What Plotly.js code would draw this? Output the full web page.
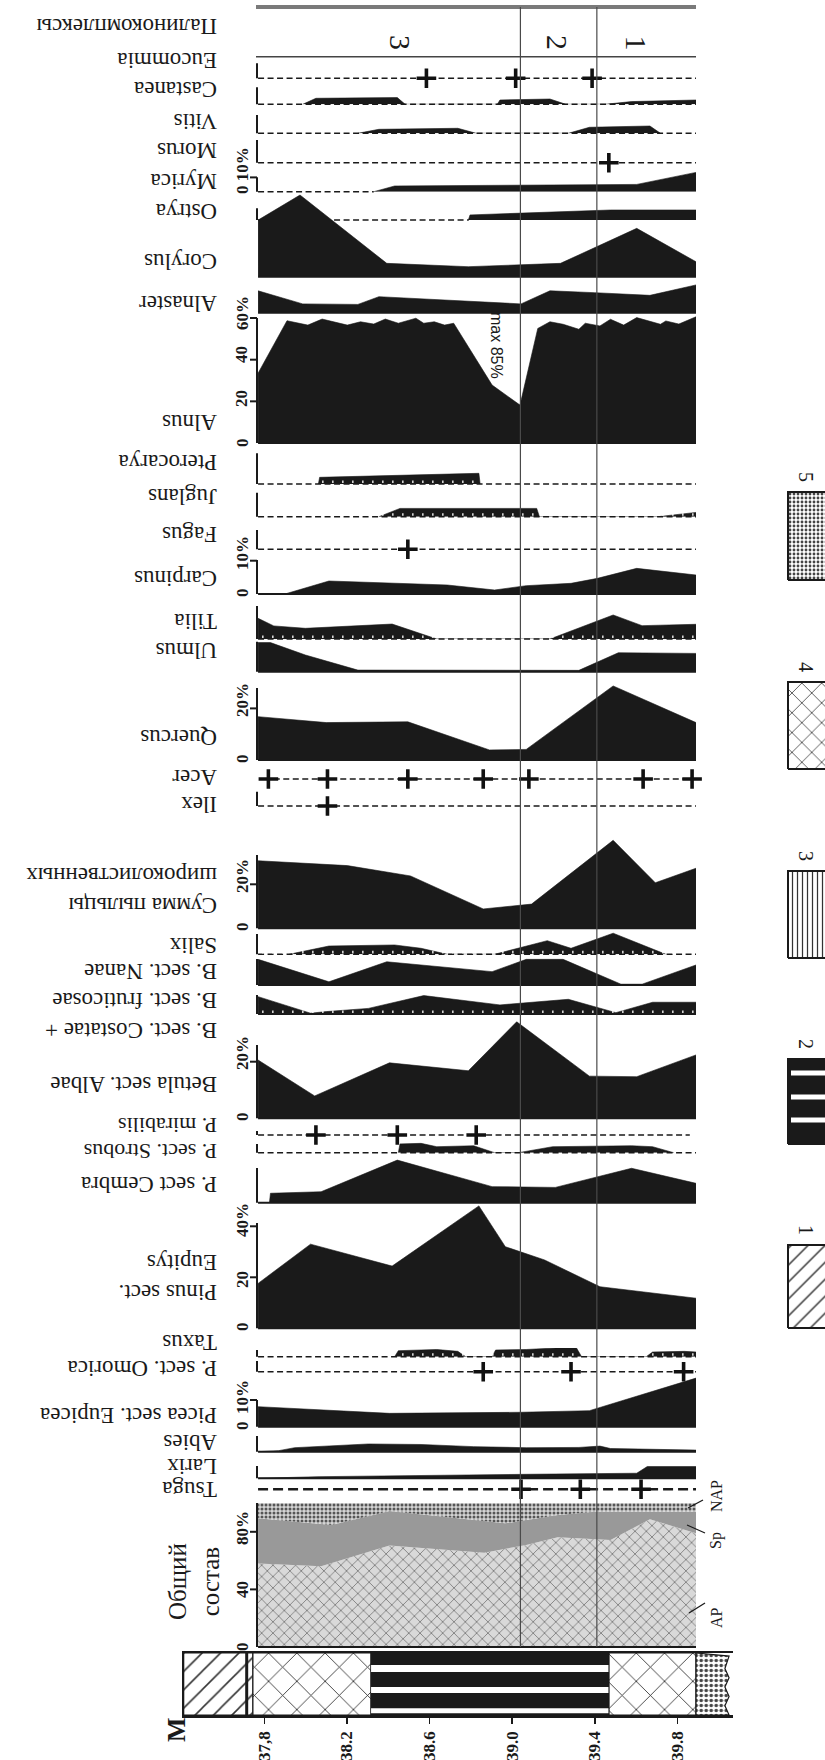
<!DOCTYPE html>
<html>
<head>
<meta charset="utf-8">
<script src="https://cdn.plot.ly/plotly-3.0.1.min.js"></script>
<style>html,body{margin:0;padding:0;background:#fff}#chart{width:825px;height:1760px}</style>
</head>
<body>
<div id="chart"></div>
<script>
// ================= DATA =================
const depthTicks = [37.8, 38.2, 38.6, 39.0, 39.4, 39.8];
const depthTickText = ['37,8', '38.2', '38.6', '39.0', '39.4', '39.8'];
const sectionDepth = [37.77, 39.89];
const zoneBounds = [39.04, 39.41];
const zoneNames = ['3', '2', '1'];
const zoneMid = [38.46, 39.22, 39.60];

// lithology (depth from / to, legend type)
const lithoFrom = [37.41, 37.745, 38.317, 39.469, 39.89];
const lithoTo   = [37.745, 38.317, 39.469, 39.89, 40.05];
const lithoType = [1, 4, 2, 4, 5];
const legendNums = ['1', '2', '3', '4', '5'];

// Общий состав (cumulative %)
const apDepth = [37.77, 38.075, 38.406, 38.865, 39.068, 39.221, 39.476, 39.667, 39.89];
const apPct   = [58, 56, 70.4, 65.5, 70.8, 76.2, 74.3, 88.7, 79];
const apSpDepth = [37.77, 38.126, 38.406, 38.967, 39.221, 39.40, 39.89];
const apSpPct   = [89.4, 84.7, 94.4, 85.9, 91.7, 94, 94];
const compLabels = ['AP', 'Sp', 'NAP'];

// taxa
const eucommiaPlus = [38.585, 39.017, 39.387];
const castaneaDepth = [37.986, 38.05, 38.444, 38.482, 38.928, 38.941, 39.183, 39.26, 39.45, 39.578, 39.89];
const castaneaPct   = [0, 4.2, 4.7, 0, 0, 3.0, 3.7, 0, 0, 1.9, 3.0];
const vitisDepth = [38.253, 38.355, 38.737, 38.826, 39.272, 39.374, 39.667, 39.718];
const vitisPct   = [0, 2.8, 3.5, 0, 0, 4.2, 5.1, 0];
const morusPlus = [39.468];
const myricaDepth = [38.33, 38.431, 39.603, 39.89];
const myricaPct   = [0, 4.0, 5.1, 13.5];
const ostryaDepth = [38.788, 38.796, 39.476, 39.89];
const ostryaPct   = [0, 1.9, 3.75, 3.75];
const corylusDepth = [37.77, 37.973, 38.393, 38.788, 39.234, 39.603, 39.89];
const corylusPct   = [21.2, 30.6, 5.0, 3.75, 5.0, 18.1, 5.6];
const alnasterDepth = [37.77, 37.986, 38.253, 38.355, 39.043, 39.183, 39.40, 39.667, 39.89];
const alnasterPct   = [8.2, 3.3, 3.1, 6.0, 3.3, 8.2, 7.5, 6.5, 10.4];
const alnusDepth = [37.77, 37.91, 38.011, 38.08, 38.202, 38.266, 38.33, 38.386, 38.449, 38.534, 38.572, 38.623, 38.673, 38.717, 38.903, 39.038, 39.124, 39.183, 39.247, 39.323, 39.354, 39.425, 39.476, 39.54, 39.603, 39.718, 39.744, 39.807, 39.89];
const alnusPct   = [33.5, 58.7, 56.6, 59.5, 56.6, 58.2, 57.1, 59.5, 57.5, 59.9, 57.5, 58.2, 56.6, 57.5, 27.8, 18.2, 55.0, 58.2, 57.0, 54.6, 57.5, 56.2, 59.4, 56.6, 60.2, 57.0, 58.6, 57.1, 60.6];
const pterocaryaDepth = [38.062, 38.068, 38.839, 38.845];
const pterocaryaPct   = [0, 2.5, 4.0, 0];
const juglansDepth = [38.355, 38.457, 39.119, 39.132, 39.705, 39.89];
const juglansPct   = [0, 3.1, 3.1, 0, 0, 1.6];
const fagusPlus = [38.495];
const carpinusDepth = [37.77, 37.90, 38.113, 38.686, 38.915, 39.068, 39.285, 39.413, 39.603, 39.89];
const carpinusPct   = [0, 0, 3.9, 2.7, 1.2, 2.5, 3.2, 4.7, 7.7, 5.7];
const tiliaDepth = [37.77, 37.846, 37.999, 38.151, 38.419, 38.635, 39.183, 39.489, 39.629, 39.89];
const tiliaPct   = [7.75, 4.9, 4.0, 4.6, 5.6, 0, 0, 9.0, 5.0, 5.5];
const ulmusDepth = [37.77, 37.83, 37.999, 38.253, 39.323, 39.514, 39.89];
const ulmusPct   = [10.9, 10.9, 6.25, 0.6, 0.5, 7.1, 6.85];
const quercusDepth = [37.77, 38.10, 38.495, 38.89, 39.068, 39.489, 39.89];
const quercusPct   = [16.8, 14.5, 14.8, 3.9, 4.1, 28.7, 14.5];
const acerPlus = [37.82, 38.106, 38.495, 38.86, 39.081, 39.634, 39.871];
const ilexPlus = [38.106];
const summaDepth = [37.77, 38.202, 38.508, 38.86, 39.094, 39.489, 39.693, 39.89];
const summaPct   = [30.7, 28.5, 23.8, 8.8, 11.0, 40.0, 20.7, 27.3];
const salixDepth = [37.92, 38.113, 38.431, 38.559, 38.686, 38.915, 39.17, 39.285, 39.489, 39.744];
const salixPct   = [0, 3.1, 3.5, 2.25, 0, 0, 5.1, 2.25, 7.9, 0];
const nanaeDepth = [37.77, 38.113, 38.393, 38.903, 39.068, 39.247, 39.527, 39.629, 39.89];
const nanaePct   = [9.6, 1.2, 8.7, 5.0, 9.6, 9.6, 0.3, 0.3, 7.5];
const fruticDepth = [37.77, 38.024, 38.10, 38.304, 38.572, 38.941, 39.272, 39.502, 39.68, 39.89];
const fruticPct   = [6.5, 0.3, 0.9, 2.1, 6.9, 3.4, 5.5, 0.5, 4.4, 4.4];
const betulaDepth = [37.77, 38.044, 38.406, 38.788, 39.022, 39.374, 39.603, 39.89];
const betulaPct   = [20.6, 7.9, 19.6, 16.8, 34.1, 14.9, 14.7, 22.4];
const mirabilisPlus = [38.05, 38.444, 38.826];
const strobusDepth = [38.449, 38.457, 38.559, 38.635, 38.814, 38.903, 38.915, 39.03, 39.196, 39.578, 39.68, 39.782];
const strobusPct   = [0, 3.3, 3.5, 2.25, 2.6, 0.4, 0, 0, 2.25, 2.6, 2.25, 0];
const cembraDepth = [37.77, 37.825, 37.83, 38.075, 38.444, 38.903, 39.209, 39.578, 39.89];
const cembraPct   = [0, 0, 3.7, 4.3, 16.7, 6.3, 6.0, 13.5, 7.6];
const pinusDepth = [37.77, 38.024, 38.419, 38.839, 38.967, 39.157, 39.425, 39.89];
const pinusPct   = [17.6, 33.0, 24.4, 48.0, 32.0, 26.8, 16.3, 11.8];
const taxusDepth = [38.431, 38.449, 38.635, 38.737, 38.775, 38.903, 38.92, 39.068, 39.272, 39.31, 39.336, 39.649, 39.68, 39.833, 39.89];
const taxusPct   = [0, 2.25, 2.7, 2.0, 0, 0, 2.5, 2.7, 3.5, 3.5, 0, 0, 1.75, 2.0, 1.75];
const omoricaPlus = [38.86, 39.285, 39.83];
const piceaDepth = [37.77, 38.406, 39.043, 39.374, 39.89];
const piceaPct   = [7.5, 5.0, 5.4, 6.0, 18.2];
const abiesDepth = [37.77, 37.87, 37.947, 38.304, 38.559, 38.814, 39.068, 39.323, 39.425, 39.476, 39.89];
const abiesPct   = [0, 0.4, 1.5, 2.9, 2.7, 1.9, 1.5, 1.6, 2.1, 1.2, 0.6];
const larixDepth = [37.77, 38.06, 39.068, 39.603, 39.654, 39.89];
const larixPct   = [0, 0.6, 1.5, 1.9, 4.4, 4.4];
const tsugaPlus = [39.043, 39.33, 39.624];

// ================= LAYOUT / STYLE =================
const W = 825, H = 1760;
const PX0 = 256, PX1 = 696;
const DEPTH_RANGE = [37.76, 39.89];
const PXPERM = (PX1 - PX0) / (DEPTH_RANGE[1] - DEPTH_RANGE[0]);
const px = x => x / W;
const py = y => 1 - y / H;
const SERIF = 'Liberation Serif, Times New Roman, serif';
const SANS = 'Liberation Sans, Arial, sans-serif';
const FILL = '#1a1a1a';
const INK = '#1a1a1a';
const FULL = sectionDepth;

const strips = [
  {name: 'Eucommia', plus: eucommiaPlus, base: 78.3, top: 62, scale: 1.43, axis: 63.3, dash: FULL, ly: 61},
  {name: 'Castanea', depth: castaneaDepth, pct: castaneaPct, base: 104.3, top: 86, scale: 1.43, axis: 87.3, dash: FULL, ly: 90},
  {name: 'Vitis', depth: vitisDepth, pct: vitisPct, base: 133.3, top: 113, scale: 1.43, axis: 115, dash: FULL, ly: 121},
  {name: 'Morus', plus: morusPlus, base: 162.7, top: 140, scale: 1.43, axis: 140, dash: FULL, ly: 151},
  {name: 'Myrica', depth: myricaDepth, pct: myricaPct, base: 191.7, top: 172, scale: 1.43, axis: 177.3, ticks: [10], dash: [37.77, 38.33], ly: 181},
  {name: 'Ostrya', depth: ostryaDepth, pct: ostryaPct, base: 220, top: 207, scale: 2.67, axis: 208.3, dash: [37.77, 38.79], ly: 211},
  {name: 'Corylus', depth: corylusDepth, pct: corylusPct, base: 276.7, top: 194, scale: 2.67, solid: true, ly: 262},
  {name: 'Alnaster', depth: alnasterDepth, pct: alnasterPct, base: 312.7, top: 284, scale: 2.67, solid: true, ly: 304},
  {name: 'Alnus', depth: alnusDepth, pct: alnusPct, base: 443, top: 314, scale: 2.083, axis: 318, ticks: [20, 40, 60], solid: true, ly: 423},
  {name: 'Pterocarya', depth: pterocaryaDepth, pct: pterocaryaPct, base: 484, top: 452, scale: 2.67, axis: 453.3, dash: FULL, notch: true, ly: 462},
  {name: 'Juglans', depth: juglansDepth, pct: juglansPct, base: 516.7, top: 492, scale: 2.67, axis: 492.7, dash: FULL, notch: true, ly: 497},
  {name: 'Fagus', plus: fagusPlus, base: 549.3, top: 530, scale: 2.67, axis: 530, dash: FULL, ly: 535},
  {name: 'Carpinus', depth: carpinusDepth, pct: carpinusPct, base: 594, top: 558, scale: 3.33, axis: 560, ticks: [10], solid: true, ly: 578},
  {name: 'Tilia', depth: tiliaDepth, pct: tiliaPct, base: 639, top: 605, scale: 2.67, axis: 606, dash: FULL, notch: true, ly: 621},
  {name: 'Ulmus', depth: ulmusDepth, pct: ulmusPct, base: 671.7, top: 641, scale: 2.67, axis: 641.7, solid: true, ly: 651},
  {name: 'Quercus', depth: quercusDepth, pct: quercusPct, base: 760, top: 685, scale: 2.58, axis: 688, ticks: [20], solid: true, ly: 738},
  {name: 'Acer', plus: acerPlus, base: 779, top: 770, scale: 2.67, dash: [37.80, 39.89], ly: 778},
  {name: 'Ilex', plus: ilexPlus, base: 806, top: 791, scale: 2.67, axis: 791.7, dash: FULL, ly: 805},
  {name: 'Сумма пыльцы<br>широколиственных', depth: summaDepth, pct: summaPct, base: 928.3, top: 838, scale: 2.2, axis: 855, ticks: [20], solid: true, ly: 891},
  {name: 'Salix', depth: salixDepth, pct: salixPct, base: 954.3, top: 932, scale: 2.67, axis: 934, dash: FULL, notch: true, ly: 946},
  {name: 'B. sect. Nanae', depth: nanaeDepth, pct: nanaePct, base: 985, top: 957, scale: 2.67, axis: 959, solid: true, ly: 972},
  {name: 'B. sect. Costatae +<br>B. sect. fruticosae', depth: fruticDepth, pct: fruticPct, base: 1014, top: 994, scale: 2.67, axis: 995, solid: true, notch: true, ly: 1016},
  {name: 'Betula sect. Albae', depth: betulaDepth, pct: betulaPct, base: 1118.3, top: 1020, scale: 2.83, axis: 1045, ticks: [20], solid: true, ly: 1085},
  {name: 'P. mirabilis', plus: mirabilisPlus, base: 1135, top: 1128, scale: 2.67, axis: 1131, dash: [37.77, 39.86], ly: 1126, fs: 22},
  {name: 'P. sect. Strobus', depth: strobusDepth, pct: strobusPct, base: 1152.7, top: 1142, scale: 2.67, axis: 1144, dash: FULL, ly: 1152, fs: 22},
  {name: 'P. sect Cembra', depth: cembraDepth, pct: cembraPct, base: 1202.7, top: 1158, scale: 2.55, axis: 1168, solid: true, ly: 1185},
  {name: 'Pinus sect.<br>Eupitys', depth: pinusDepth, pct: pinusPct, base: 1328.3, top: 1204, scale: 2.55, axis: 1223, ticks: [20, 40], solid: true, ly: 1278},
  {name: 'Taxus', depth: taxusDepth, pct: taxusPct, base: 1356.7, top: 1348, scale: 2.67, axis: 1350, dash: FULL, notch: true, ly: 1343},
  {name: 'P. sect. Omorica', plus: omoricaPlus, base: 1371.7, top: 1361, scale: 2.67, axis: 1361, dash: FULL, ly: 1369},
  {name: 'Picea sect. Eupicea', depth: piceaDepth, pct: piceaPct, base: 1426.7, top: 1376, scale: 2.67, axis: 1400, ticks: [10], solid: true, ly: 1416},
  {name: 'Abies', depth: abiesDepth, pct: abiesPct, base: 1451.7, top: 1436, scale: 2.67, axis: 1436, solid: true, ly: 1443},
  {name: 'Larix', depth: larixDepth, pct: larixPct, base: 1478.3, top: 1464, scale: 2.67, axis: 1466, solid: true, ly: 1467},
  {name: 'Tsuga', plus: tsugaPlus, base: 1489.3, top: 1480, scale: 2.67, dash: FULL, dashW: 2.6, dashStyle: '10px,5px', ly: 1490}
];

const traces = [], shapes = [], annotations = [];
const X2_RANGE = [37.41, 40.07];
const x2px = d => PX0 + (d - DEPTH_RANGE[0]) * PXPERM;
const LITHO_TOP = 1653, LITHO_BOT = 1715;

const layout = {
  width: W, height: H, margin: {l: 0, r: 0, t: 0, b: 0},
  paper_bgcolor: '#ffffff', plot_bgcolor: 'rgba(0,0,0,0)', showlegend: false,
  xaxis: {domain: [px(PX0), px(PX1)], range: DEPTH_RANGE, visible: false, anchor: 'y3', fixedrange: true},
  xaxis2: {domain: [px(x2px(X2_RANGE[0])), px(x2px(X2_RANGE[1]))], range: X2_RANGE, anchor: 'y',
    tickvals: depthTicks, ticktext: depthTickText, ticks: 'outside', ticklen: 6, tickwidth: 1.5, tickcolor: INK,
    tickangle: -90, tickfont: {family: SERIF, size: 17, color: INK, weight: 'bold'}, ticklabelstandoff: 1,
    showline: true, mirror: true, linecolor: INK, linewidth: 2.5, showgrid: false, zeroline: false, fixedrange: true},
  yaxis: {domain: [py(LITHO_BOT), py(LITHO_TOP)], range: [0, 1], anchor: 'x2', showline: true, linecolor: INK, linewidth: 2,
    showticklabels: false, ticks: '', showgrid: false, zeroline: false, fixedrange: true},
  xaxis3: {domain: [0, 1], range: [0, W], visible: false, anchor: 'y2', fixedrange: true},
  yaxis2: {domain: [0, 1], range: [H, 0], visible: false, anchor: 'x3', fixedrange: true},
  shapes: shapes, annotations: annotations
};

function text(t, xpx, ypx, o) {
  annotations.push(Object.assign({text: t, xref: 'paper', yref: 'paper', x: px(xpx), y: py(ypx), showarrow: false,
    xanchor: 'center', yanchor: 'middle'}, o));
}
function hline(x0, x1, ypx, col, w) {
  shapes.push({type: 'line', xref: 'paper', yref: 'paper', x0: px(x0), x1: px(x1), y0: py(ypx), y1: py(ypx), line: {color: col, width: w}});
}
function seg(x0, y0, x1, y1, col, w) {
  shapes.push({type: 'line', xref: 'paper', yref: 'paper', x0: px(x0), x1: px(x1), y0: py(y0), y1: py(y1), line: {color: col, width: w}});
}

let yi = 3;
// ---- taxon strips
strips.forEach(s => {
  const yid = 'y' + yi, key = 'yaxis' + yi; yi++;
  layout[key] = {domain: [py(s.base), py(s.top)], range: [0, (s.base - s.top) / s.scale], anchor: 'x', visible: false, fixedrange: true};
  if (s.dash) shapes.push({type: 'line', xref: 'x', yref: 'paper', x0: s.dash[0], x1: s.dash[1], y0: py(s.base), y1: py(s.base),
    layer: 'below', line: {color: INK, width: s.dashW || 1.6, dash: s.dashStyle || '6px,3.5px'}});
  if (s.solid) shapes.push({type: 'line', xref: 'x', yref: 'paper', x0: FULL[0], x1: FULL[1], y0: py(s.base), y1: py(s.base),
    line: {color: INK, width: 2}});
  if (s.axis) seg(PX0 + 1, s.base, PX0 + 1, s.axis, INK, 2);
  (s.ticks || []).forEach(v => hline(PX0 - 6, PX0 + 1, s.base - v * s.scale, INK, 2));
  if (s.depth) traces.push({type: 'scatter', mode: 'lines', x: s.depth, y: s.pct, xaxis: 'x', yaxis: yid,
    fill: 'tozeroy', fillcolor: FILL, line: {color: FILL, width: 0.6}, hoverinfo: 'skip'});
  if (s.notch) shapes.push({type: 'line', xref: 'x', yref: 'paper', x0: FULL[0] + 0.02, x1: FULL[1], y0: py(s.base - 2.2), y1: py(s.base - 2.2),
    line: {color: '#ffffff', width: 2.6, dash: '1.3px,8.7px'}});
  if (s.plus) traces.push({type: 'scatter', mode: 'markers', x: s.plus, y: s.plus.map(() => 0), xaxis: 'x', yaxis: yid,
    cliponaxis: false, marker: {symbol: 'cross-thin', size: 14, color: '#111', line: {color: '#111', width: 3.6}}, hoverinfo: 'skip'});
  text(s.name, 219, s.ly, {xanchor: 'right', textangle: 180, align: 'left', font: {family: SERIF, size: s.fs || 23, color: INK}});
});

// ---- Общий состав
{
  const base = 1647, top = 1503;
  const yid = 'y' + yi, key = 'yaxis' + yi; yi++;
  layout[key] = {domain: [py(base), py(top)], range: [0, 100], anchor: 'x', visible: false, fixedrange: true};
  traces.push({type: 'scatter', mode: 'lines', x: apDepth, y: apPct, xaxis: 'x', yaxis: yid, fill: 'tozeroy',
    fillcolor: '#d4d4d4', fillpattern: {shape: 'x', bgcolor: '#d9d9d9', fgcolor: '#7a7a7a', size: 8, solidity: 0.2},
    line: {width: 0, color: 'rgba(0,0,0,0)'}, hoverinfo: 'skip'});
  traces.push({type: 'scatter', mode: 'lines', x: apSpDepth, y: apSpPct, xaxis: 'x', yaxis: yid, fill: 'tonexty',
    fillcolor: '#999999', line: {width: 0, color: 'rgba(0,0,0,0)'}, hoverinfo: 'skip'});
  traces.push({type: 'scatter', mode: 'lines', x: sectionDepth, y: sectionDepth.map(() => 100), xaxis: 'x', yaxis: yid, fill: 'tonexty',
    fillcolor: '#cfcfcf', fillpattern: {shape: '.', bgcolor: '#d4d4d4', fgcolor: '#555555', size: 4, solidity: 0.45},
    line: {width: 0, color: 'rgba(0,0,0,0)'}, hoverinfo: 'skip'});
  shapes.push({type: 'line', xref: 'x', yref: 'paper', x0: FULL[0], x1: FULL[1], y0: py(base), y1: py(base), line: {color: INK, width: 2}});
  seg(PX0 + 1, base, PX0 + 1, top, INK, 2);
  [40, 80].forEach(v => hline(PX0 - 6, PX0 + 1, base - v * 1.44, INK, 2));
  text('Общий<br>состав', 194, 1582, {textangle: -90, font: {family: SERIF, size: 25, color: INK}});
  const lf = {family: SERIF, size: 16, color: INK};
  text(compLabels[0], 716, 1618, {textangle: -90, font: lf});
  text(compLabels[1], 716, 1541, {textangle: -90, font: lf});
  text(compLabels[2], 716, 1496, {textangle: -90, font: lf});
  seg(689, 1613, 705, 1603, INK, 1.3);
  seg(687, 1525, 705, 1533, INK, 1.3);
  seg(688, 1508, 703, 1500, INK, 1.3);
}

// ---- scale numbers
const nf = {family: SERIF, size: 17, color: INK, weight: 'bold'};
[['0', 1647], ['40', 1590], ['80%', 1528], ['0', 1426], ['10%', 1397], ['0', 1327], ['20', 1280], ['40%', 1220],
 ['0', 1117], ['20%', 1053], ['0', 927], ['20%', 876], ['0', 759], ['20%', 700], ['0', 593], ['10%', 553],
 ['0', 443], ['20', 399], ['40', 355], ['60%', 313], ['0 10%', 171]].forEach(([t, y]) =>
  text(t, 242, y, {textangle: -90, font: nf}));

// ---- lithology column
const lithoStyle = {
  1: {fillcolor: '#ffffff', fillpattern: {shape: '/', bgcolor: '#ffffff', fgcolor: '#333', size: 13, solidity: 0.12}},
  4: {fillcolor: '#ffffff', fillpattern: {shape: 'x', bgcolor: '#ffffff', fgcolor: '#222', size: 20, solidity: 0.08}},
  2: {fillcolor: FILL},
  5: {fillcolor: '#ffffff', fillpattern: {shape: '.', bgcolor: '#ffffff', fgcolor: '#444', size: 5, solidity: 0.4}}
};
const stripeBands = [[0.03, 0.11], [0.355, 0.45], [0.695, 0.805]];
lithoType.forEach((t, i) => {
  const a = lithoFrom[i], b = lithoTo[i];
  let xs = [a, b, b, a, a], ys = [0, 0, 1, 1, 0];
  if (t === 5) {
    xs = [a, b, b - 0.02, b, b - 0.02, b, b - 0.02, b, a, a];
    ys = [0, 0, 0.15, 0.3, 0.45, 0.6, 0.75, 0.95, 1, 0];
  }
  traces.push(Object.assign({type: 'scatter', mode: 'lines', x: xs, y: ys, xaxis: 'x2', yaxis: 'y', fill: 'toself',
    line: {color: INK, width: 1.2}, hoverinfo: 'skip'}, lithoStyle[t]));
  if (t === 2) stripeBands.forEach(([y0, y1]) => traces.push({type: 'scatter', mode: 'lines', x: [a, b, b, a, a], y: [y0, y0, y1, y1, y0],
    xaxis: 'x2', yaxis: 'y', fill: 'toself', fillcolor: '#ffffff', line: {width: 0, color: 'rgba(0,0,0,0)'}, hoverinfo: 'skip'}));
  if (t === 1) shapes.push({type: 'line', xref: 'x2', yref: 'y', x0: b - 0.03, x1: b - 0.03, y0: 0, y1: 1, line: {color: INK, width: 3}});
});
text('M', 176, 1730, {textangle: -90, font: {family: SERIF, size: 26, color: INK, weight: 'bold'}});

// ---- legend boxes (pixel overlay)
const legendTop = [1245, 1059, 871, 682, 492], legendBot = [1328, 1144, 958, 769, 580];
const legendStyle = [
  {fillcolor: '#fff', fillpattern: {shape: '/', bgcolor: '#fff', fgcolor: '#333', size: 12, solidity: 0.12}},
  {fillcolor: FILL},
  {fillcolor: '#fff', fillpattern: {shape: '|', bgcolor: '#fff', fgcolor: '#333', size: 5, solidity: 0.25}},
  {fillcolor: '#fff', fillpattern: {shape: 'x', bgcolor: '#fff', fgcolor: '#222', size: 14, solidity: 0.1}},
  {fillcolor: '#fff', fillpattern: {shape: '.', bgcolor: '#fff', fgcolor: '#444', size: 4, solidity: 0.4}}
];
legendNums.forEach((n, i) => {
  const t = legendTop[i], b = legendBot[i];
  traces.push(Object.assign({type: 'scatter', mode: 'lines', x: [788, 832, 832, 788, 788], y: [b, b, t, t, b], xaxis: 'x3', yaxis: 'y2',
    fill: 'toself', line: {color: INK, width: 2}, hoverinfo: 'skip'}, legendStyle[i]));
  if (i === 1) [1073, 1097, 1120].forEach(c => traces.push({type: 'scatter', mode: 'lines', x: [791, 830, 830, 791, 791],
    y: [c - 2.5, c - 2.5, c + 2.5, c + 2.5, c - 2.5], xaxis: 'x3', yaxis: 'y2', fill: 'toself', fillcolor: '#fff',
    line: {width: 0, color: 'rgba(0,0,0,0)'}, hoverinfo: 'skip'}));
  text(n, 806, t - 15, {textangle: 90, font: {family: SERIF, size: 20, color: INK}});
});

// ---- header & zones
hline(PX0, PX1, 7, '#7a7a7a', 4);
hline(PX0, PX1, 56.7, '#444', 1.5);
text('Палинокомплексы', 219, 27, {xanchor: 'right', textangle: 180, font: {family: SERIF, size: 23, color: INK}});
zoneBounds.forEach(d => shapes.push({type: 'line', xref: 'x', yref: 'paper', x0: d, x1: d, y0: py(1647), y1: py(7),
  line: {color: '#4a4a4a', width: 1.2}}));
zoneNames.forEach((z, i) => annotations.push({text: z, xref: 'x', yref: 'paper', x: zoneMid[i], y: py(33), showarrow: false,
  textangle: 90, font: {family: SERIF, size: 30, color: INK}}));
text('max 85%', 497, 345, {textangle: 90, font: {family: SANS, size: 16, color: INK}});

Plotly.newPlot('chart', traces, layout, {displayModeBar: false, staticPlot: true});
</script>
</body>
</html>
